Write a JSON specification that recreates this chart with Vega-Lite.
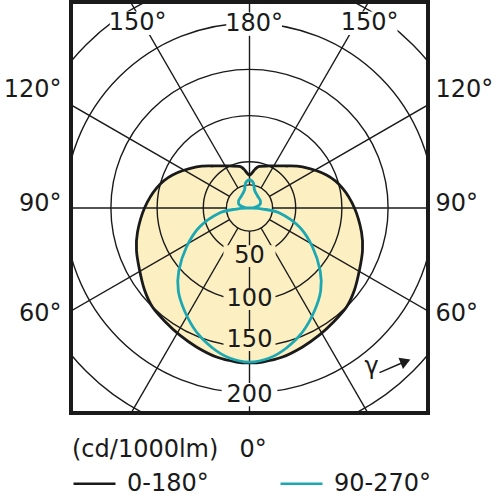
{
  "$schema": "https://vega.github.io/schema/vega-lite/v6.json",
  "width": 357,
  "height": 411,
  "autosize": {"type": "none"},
  "padding": {"left": 71, "top": 2, "right": 69, "bottom": 87},
  "config": {
    "view": {"stroke": "#1a1a1a", "strokeWidth": 4},
    "font": "DejaVu Sans"
  },
  "datasets": {
    "curves": [
      {"s": "0-180°", "i": 1, "x": 0, "y": -167.7},
      {"s": "0-180°", "i": 2, "x": -14.1, "y": -166.7},
      {"s": "0-180°", "i": 3, "x": -35.7, "y": -161.3},
      {"s": "0-180°", "i": 4, "x": -57.4, "y": -150.4},
      {"s": "0-180°", "i": 5, "x": -75.8, "y": -137.4},
      {"s": "0-180°", "i": 6, "x": -89.8, "y": -124.5},
      {"s": "0-180°", "i": 7, "x": -105, "y": -107.1},
      {"s": "0-180°", "i": 8, "x": -113.6, "y": -88.7},
      {"s": "0-180°", "i": 9, "x": -119, "y": -67.1},
      {"s": "0-180°", "i": 10, "x": -122.3, "y": -46},
      {"s": "0-180°", "i": 11, "x": -121.2, "y": -26},
      {"s": "0-180°", "i": 12, "x": -113.6, "y": 0},
      {"s": "0-180°", "i": 13, "x": -100.6, "y": 21.6},
      {"s": "0-180°", "i": 14, "x": -83.3, "y": 35.7},
      {"s": "0-180°", "i": 15, "x": -57.4, "y": 44.4},
      {"s": "0-180°", "i": 16, "x": -37.9, "y": 45.5},
      {"s": "0-180°", "i": 17, "x": -21.6, "y": 45.5},
      {"s": "0-180°", "i": 18, "x": -10.8, "y": 45},
      {"s": "0-180°", "i": 19, "x": -6, "y": 42},
      {"s": "0-180°", "i": 20, "x": 0, "y": 35.7},
      {"s": "0-180°", "i": 21, "x": 6, "y": 42},
      {"s": "0-180°", "i": 22, "x": 10.8, "y": 45},
      {"s": "0-180°", "i": 23, "x": 21.6, "y": 45.5},
      {"s": "0-180°", "i": 24, "x": 37.9, "y": 45.5},
      {"s": "0-180°", "i": 25, "x": 57.4, "y": 44.4},
      {"s": "0-180°", "i": 26, "x": 83.3, "y": 35.7},
      {"s": "0-180°", "i": 27, "x": 100.6, "y": 21.6},
      {"s": "0-180°", "i": 28, "x": 113.6, "y": 0},
      {"s": "0-180°", "i": 29, "x": 121.2, "y": -26},
      {"s": "0-180°", "i": 30, "x": 122.3, "y": -46},
      {"s": "0-180°", "i": 31, "x": 119, "y": -67.1},
      {"s": "0-180°", "i": 32, "x": 113.6, "y": -88.7},
      {"s": "0-180°", "i": 33, "x": 105, "y": -107.1},
      {"s": "0-180°", "i": 34, "x": 89.8, "y": -124.5},
      {"s": "0-180°", "i": 35, "x": 75.8, "y": -137.4},
      {"s": "0-180°", "i": 36, "x": 57.4, "y": -150.4},
      {"s": "0-180°", "i": 37, "x": 35.7, "y": -161.3},
      {"s": "0-180°", "i": 38, "x": 14.1, "y": -166.7},
      {"s": "90-270°", "i": 1, "x": 0, "y": 30.3},
      {"s": "90-270°", "i": 2, "x": -4.3, "y": 27},
      {"s": "90-270°", "i": 3, "x": -5.4, "y": 19.5},
      {"s": "90-270°", "i": 4, "x": -8.7, "y": 13},
      {"s": "90-270°", "i": 5, "x": -11.9, "y": 7.6},
      {"s": "90-270°", "i": 6, "x": -10.8, "y": 3.2},
      {"s": "90-270°", "i": 7, "x": -5, "y": 0.5},
      {"s": "90-270°", "i": 8, "x": 0, "y": 0},
      {"s": "90-270°", "i": 9, "x": -14.1, "y": -1.1},
      {"s": "90-270°", "i": 10, "x": -32.5, "y": -5.4},
      {"s": "90-270°", "i": 11, "x": -54.1, "y": -20.6},
      {"s": "90-270°", "i": 12, "x": -68.2, "y": -42.2},
      {"s": "90-270°", "i": 13, "x": -76.5, "y": -68},
      {"s": "90-270°", "i": 14, "x": -77, "y": -90},
      {"s": "90-270°", "i": 15, "x": -70, "y": -112},
      {"s": "90-270°", "i": 16, "x": -57.4, "y": -134.2},
      {"s": "90-270°", "i": 17, "x": -40, "y": -151.5},
      {"s": "90-270°", "i": 18, "x": -21.6, "y": -162.3},
      {"s": "90-270°", "i": 19, "x": 0, "y": -166.7},
      {"s": "90-270°", "i": 20, "x": 21.6, "y": -162.3},
      {"s": "90-270°", "i": 21, "x": 40, "y": -151.5},
      {"s": "90-270°", "i": 22, "x": 57.4, "y": -134.2},
      {"s": "90-270°", "i": 23, "x": 70, "y": -112},
      {"s": "90-270°", "i": 24, "x": 77, "y": -90},
      {"s": "90-270°", "i": 25, "x": 76.5, "y": -68},
      {"s": "90-270°", "i": 26, "x": 68.2, "y": -42.2},
      {"s": "90-270°", "i": 27, "x": 54.1, "y": -20.6},
      {"s": "90-270°", "i": 28, "x": 32.5, "y": -5.4},
      {"s": "90-270°", "i": 29, "x": 14.1, "y": -1.1},
      {"s": "90-270°", "i": 30, "x": 0, "y": 0},
      {"s": "90-270°", "i": 31, "x": 5, "y": 0.5},
      {"s": "90-270°", "i": 32, "x": 10.8, "y": 3.2},
      {"s": "90-270°", "i": 33, "x": 11.9, "y": 7.6},
      {"s": "90-270°", "i": 34, "x": 8.7, "y": 13},
      {"s": "90-270°", "i": 35, "x": 5.4, "y": 19.5},
      {"s": "90-270°", "i": 36, "x": 4.3, "y": 27}
    ],
    "rays": [
      {"x": 25, "y": 0, "x2": 320, "y2": 0},
      {"x": 21.65, "y": 12.5, "x2": 277.1, "y2": 160},
      {"x": 12.5, "y": 21.65, "x2": 160, "y2": 277.1},
      {"x": 0, "y": 25, "x2": 0, "y2": 320},
      {"x": -12.5, "y": 21.65, "x2": -160, "y2": 277.1},
      {"x": -21.65, "y": 12.5, "x2": -277.1, "y2": 160},
      {"x": -25, "y": 0, "x2": -320, "y2": 0},
      {"x": -21.65, "y": -12.5, "x2": -277.1, "y2": -160},
      {"x": -12.5, "y": -21.65, "x2": -160, "y2": -277.1},
      {"x": 0, "y": -25, "x2": 0, "y2": -320},
      {"x": 12.5, "y": -21.65, "x2": 160, "y2": -277.1},
      {"x": 21.65, "y": -12.5, "x2": 277.1, "y2": -160}
    ],
    "labels": [
      {"g": "top", "t": "150°", "x": -121, "y": 200},
      {"g": "top", "t": "180°", "x": 5, "y": 199},
      {"g": "top", "t": "150°", "x": 130, "y": 200},
      {"g": "ring", "t": "50", "x": 0, "y": -52},
      {"g": "ring", "t": "100", "x": 0, "y": -98.5},
      {"g": "ring", "t": "150", "x": 0, "y": -143},
      {"g": "ring200", "t": "200", "x": 0, "y": -202},
      {"g": "gamma", "t": "γ", "x": 132, "y": -172},
      {"g": "left", "t": "120°", "x": -203.5, "y": 127.7},
      {"g": "left", "t": "90°", "x": -203.5, "y": 4.3},
      {"g": "left", "t": "60°", "x": -203.5, "y": -114.7},
      {"g": "right", "t": "120°", "x": 201.3, "y": 127.7},
      {"g": "right", "t": "90°", "x": 201.3, "y": 4.3},
      {"g": "right", "t": "60°", "x": 201.3, "y": -114.7},
      {"g": "unit", "t": "(cd/1000lm)", "x": -192.1, "y": -262},
      {"g": "unit", "t": "0°", "x": -10.8, "y": -262}
    ]
  },
  "layer": [
    {
      "data": {"name": "curves"},
      "transform": [{"filter": "datum.s === '0-180°'"}],
      "mark": {"type": "line", "interpolate": "cardinal-closed", "tension": 0, "fill": "#fcefc2", "strokeOpacity": 0},
      "encoding": {
        "x": {"field": "x", "type": "quantitative", "scale": {"domain": [-193.18, 193.18], "nice": false, "zero": false}, "axis": null},
        "y": {"field": "y", "type": "quantitative", "scale": {"domain": [-221.86, 222.94], "nice": false, "zero": false}, "axis": null},
        "order": {"field": "i", "type": "quantitative"}
      }
    },
    {
      "data": {"values": [{"r": 25}, {"r": 50}, {"r": 100}, {"r": 150}, {"r": 200}, {"r": 250}]},
      "mark": {"type": "point", "shape": "circle", "filled": false, "stroke": "#1a1a1a", "strokeWidth": 1.4, "opacity": 1, "clip": true},
      "encoding": {
        "x": {"datum": 0, "type": "quantitative", "axis": null},
        "y": {"datum": 0, "type": "quantitative", "axis": null},
        "size": {"field": "r", "type": "quantitative", "scale": {"type": "pow", "exponent": 2, "domain": [0, 250], "range": [0, 213444]}, "legend": null}
      }
    },
    {
      "data": {"name": "rays"},
      "mark": {"type": "rule", "stroke": "#1a1a1a", "strokeWidth": 1.4, "clip": true},
      "encoding": {
        "x": {"field": "x", "type": "quantitative", "axis": null},
        "y": {"field": "y", "type": "quantitative", "axis": null},
        "x2": {"field": "x2"},
        "y2": {"field": "y2"}
      }
    },
    {
      "data": {"name": "labels"},
      "transform": [{"filter": "datum.g === 'ring'"}],
      "mark": {"type": "point", "shape": "M-1,-0.42H1V0.42H-1Z", "size": 2704, "filled": true, "fill": "#fcefc2", "opacity": 1, "strokeOpacity": 0},
      "encoding": {
        "x": {"field": "x", "type": "quantitative", "axis": null},
        "y": {"field": "y", "type": "quantitative", "axis": null}
      }
    },
    {
      "data": {"name": "labels"},
      "transform": [{"filter": "datum.g === 'top' || datum.g === 'ring200'"}],
      "mark": {"type": "point", "shape": "M-1,-0.42H1V0.42H-1Z", "size": 3100, "filled": true, "fill": "white", "opacity": 1, "strokeOpacity": 0},
      "encoding": {
        "x": {"field": "x", "type": "quantitative", "axis": null},
        "y": {"field": "y", "type": "quantitative", "axis": null}
      }
    },
    {
      "data": {"name": "curves"},
      "mark": {"type": "line", "interpolate": "cardinal-closed", "tension": 0, "strokeWidth": 2.8},
      "encoding": {
        "x": {"field": "x", "type": "quantitative", "axis": null},
        "y": {"field": "y", "type": "quantitative", "axis": null},
        "order": {"field": "i", "type": "quantitative"},
        "color": {
          "field": "s",
          "type": "nominal",
          "scale": {"domain": ["0-180°", "90-270°"], "range": ["#1a1a1a", "#1ca8b3"]},
          "legend": {
            "orient": "none",
            "legendX": 1,
            "legendY": 459,
            "direction": "horizontal",
            "title": null,
            "symbolType": "stroke",
            "symbolSize": 1764,
            "symbolStrokeWidth": 2.5,
            "labelFontSize": 24,
            "labelFont": "DejaVu Sans",
            "labelColor": "#1a1a1a",
            "labelOffset": 10,
            "columnPadding": 66,
            "padding": 0,
            "labelLimit": 300
          }
        }
      }
    },
    {
      "data": {"name": "labels"},
      "transform": [{"filter": "datum.g === 'top' || datum.g === 'ring' || datum.g === 'ring200' || datum.g === 'gamma'"}],
      "mark": {"type": "text", "align": "center", "baseline": "middle", "fontSize": 24, "color": "#1a1a1a"},
      "encoding": {
        "x": {"field": "x", "type": "quantitative", "axis": null},
        "y": {"field": "y", "type": "quantitative", "axis": null},
        "text": {"field": "t"}
      }
    },
    {
      "data": {"name": "labels"},
      "transform": [{"filter": "datum.g === 'left'"}],
      "mark": {"type": "text", "align": "right", "baseline": "middle", "fontSize": 24, "color": "#1a1a1a"},
      "encoding": {
        "x": {"field": "x", "type": "quantitative", "axis": null},
        "y": {"field": "y", "type": "quantitative", "axis": null},
        "text": {"field": "t"}
      }
    },
    {
      "data": {"name": "labels"},
      "transform": [{"filter": "datum.g === 'right' || datum.g === 'unit'"}],
      "mark": {"type": "text", "align": "left", "baseline": "middle", "fontSize": 24, "color": "#1a1a1a"},
      "encoding": {
        "x": {"field": "x", "type": "quantitative", "axis": null},
        "y": {"field": "y", "type": "quantitative", "axis": null},
        "text": {"field": "t"}
      }
    },
    {
      "data": {"values": [{"x": 140.7, "y": -178.2, "x2": 166.7, "y2": -167.0}]},
      "mark": {"type": "rule", "stroke": "#1a1a1a", "strokeWidth": 1.5},
      "encoding": {
        "x": {"field": "x", "type": "quantitative", "axis": null},
        "y": {"field": "y", "type": "quantitative", "axis": null},
        "x2": {"field": "x2"},
        "y2": {"field": "y2"}
      }
    },
    {
      "data": {"values": [{"x": 168.9, "y": -166.1}]},
      "mark": {"type": "point", "shape": "triangle-right", "angle": -21.8, "size": 144, "filled": true, "color": "#1a1a1a", "opacity": 1},
      "encoding": {
        "x": {"field": "x", "type": "quantitative", "axis": null},
        "y": {"field": "y", "type": "quantitative", "axis": null}
      }
    }
  ]
}
